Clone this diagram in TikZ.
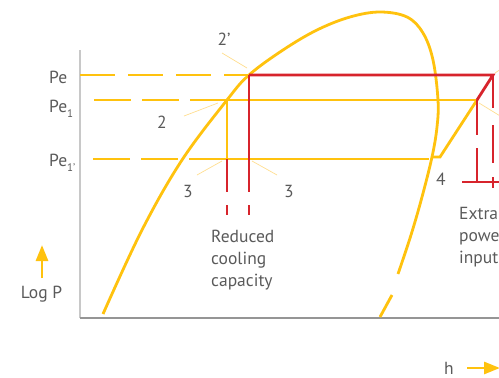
\documentclass[tikz,border=0pt]{standalone}
\usepackage{fontspec}
\setmainfont{PT Sans}
\usetikzlibrary{arrows.meta}
\definecolor{ylw}{HTML}{FFC20E}
\definecolor{rd}{HTML}{D7242C}
\definecolor{txt}{HTML}{5A5A5A}
\definecolor{lead}{HTML}{FFDE90}
\definecolor{axl}{HTML}{C8C8C8}
\definecolor{axb}{HTML}{959595}
\begin{document}
\begin{tikzpicture}[x=1pt,y=-1pt,
  yl/.style={draw=ylw,line width=2.8pt},
  rl/.style={draw=rd,line width=2.8pt},
  ydashA/.style={yl,dash pattern=on 35pt off 13pt},
  ydashB/.style={yl,dash pattern=on 37pt off 11pt},
  lbl/.style={text=txt,font=\fontsize{17.5}{22}\selectfont,inner sep=0pt},
  leader/.style={draw=lead,line width=0.7pt},
  axarrow/.style={draw=ylw,line width=2.8pt,-{Triangle[length=16pt,width=12pt]}}]
\useasboundingbox (0,0) rectangle (499,378);
\clip (0,0) rectangle (499,378);
% axes
\coordinate (O) at (80,318);
\coordinate (Ytop) at (80,50);
\coordinate (Xend) at (499,318);
\draw[axl,line width=1.5pt] (Ytop) -- (O);
\draw[axb,line width=1.1pt] (O) -- (Xend);
% key points
\coordinate (P2p) at (249,75);
\coordinate (P2) at (227,100);
\coordinate (P3) at (227,159);
\coordinate (P3p) at (249,159);
\coordinate (Cr) at (493,75);
\coordinate (Dr) at (477,100);
\coordinate (E4) at (440,157);
% saturation dome
\draw[yl] plot[smooth,tension=0.6] coordinates {(103,314) (142,230) (182,160) (227,100) (249,75) (283,50) (317,30) (350,17) (380,12) (407,17) (423,33) (433,60) (438,100) (437,127) (432,157) (422,197) (411,235) (398,274)};
\coordinate (Sa) at (392,295);
\coordinate (Sb) at (380,317);
\draw[yl] (Sa) -- (Sb);
% pressure lines
\coordinate (PeS) at (80,75);
\draw[ydashA] (PeS) -- (P2p);
\coordinate (Pe1S) at (94,100);
\coordinate (Pe1M) at (190,100);
\draw[ydashB] (Pe1S) -- (Pe1M);
\draw[yl] (Pe1M) -- (Dr);
\draw[yl] (P2) -- (P3);
\coordinate (Pe2S) at (93,159);
\coordinate (Pe2M) at (191,159);
\coordinate (Pe2E) at (429,159);
\coordinate (Pe2F) at (433,157);
\draw[ydashB] (Pe2S) -- (Pe2M);
\draw[yl] (Pe2M) -- (Pe2E);
\draw[yl] (Pe2F) -- (E4) -- (Dr);
% red lines
\draw[rl] (P2p) -- (Cr) -- (Dr);
\coordinate (Ra1) at (249,192);
\coordinate (Ra2) at (249,205);
\coordinate (Ra3) at (249,215);
\draw[rl] (P2p) -- (Ra1);
\draw[rl] (Ra2) -- (Ra3);
\coordinate (Rb1) at (227,192);
\coordinate (Rb2) at (227,205);
\coordinate (Rb3) at (227,215);
\draw[rl] (P3) -- (Rb1);
\draw[rl] (Rb2) -- (Rb3);
\coordinate (Rc1) at (477,135);
\coordinate (Rc2) at (477,148);
\coordinate (Rc3) at (477,182);
\draw[rl] (Dr) -- (Rc1);
\draw[rl] (Rc2) -- (Rc3);
\coordinate (Rd1) at (493,108);
\coordinate (Rd2) at (493,125);
\coordinate (Rd3) at (493,163);
\coordinate (Rd4) at (493,177);
\coordinate (Rd5) at (493,188);
\draw[rl] (Cr) -- (Rd1);
\draw[rl] (Rd2) -- (Rd3);
\draw[rl] (Rd4) -- (Rd5);
\coordinate (Re1) at (462,182);
\coordinate (Re2) at (510,182);
\draw[rl] (Re1) -- (Re2);
% leaders
\coordinate (L1a) at (222,53); \coordinate (L1b) at (247,68);
\coordinate (L2a) at (184,116); \coordinate (L2b) at (218,103);
\coordinate (L3a) at (197,175); \coordinate (L3b) at (222,161);
\coordinate (L4a) at (252,161); \coordinate (L4b) at (277,175);
\coordinate (L5a) at (479,103); \coordinate (L5b) at (510,122);
\coordinate (L6a) at (495,73); \coordinate (L6b) at (507,65);
\draw[leader] (L1a) -- (L1b);
\draw[leader] (L2a) -- (L2b);
\draw[leader] (L3a) -- (L3b);
\draw[leader] (L4a) -- (L4b);
\draw[leader] (L5a) -- (L5b);
\draw[leader] (L6a) -- (L6b);
% labels
\node[lbl,anchor=base west] (tPe) at (49,83) {Pe};
\node[lbl,anchor=base west] (tPe1) at (49,112) {Pe\raisebox{-5pt}{\fontsize{11}{11}\selectfont 1}};
\node[lbl,anchor=base west] (tPe2) at (49,166) {Pe\raisebox{-5pt}{\fontsize{11}{11}\selectfont 1’}};
\node[lbl,anchor=base] (t2p) at (224,45) {2’};
\node[lbl,anchor=base] (t2) at (162,128) {2};
\node[lbl,anchor=base] (t3a) at (188,197) {3};
\node[lbl,anchor=base] (t3b) at (289,197) {3};
\node[lbl,anchor=base] (t4) at (441,185) {4};
\node[lbl,anchor=north west,align=left] (tRed) at (211,230) {Reduced\\cooling\\capacity};
\node[lbl,anchor=north west,align=left] (tExt) at (459,207) {Extra\\power\\input};
\node[lbl,anchor=base] (tLog) at (41.5,298) {Log P};
\node[lbl,anchor=base] (th) at (449,374) {h};
% axis arrows
\coordinate (AyS) at (42,278); \coordinate (AyE) at (42,245);
\coordinate (AxS) at (467,368); \coordinate (AxE) at (500,368);
\draw[axarrow] (AyS) -- (AyE);
\draw[axarrow] (AxS) -- (AxE);
\end{tikzpicture}
\end{document}
